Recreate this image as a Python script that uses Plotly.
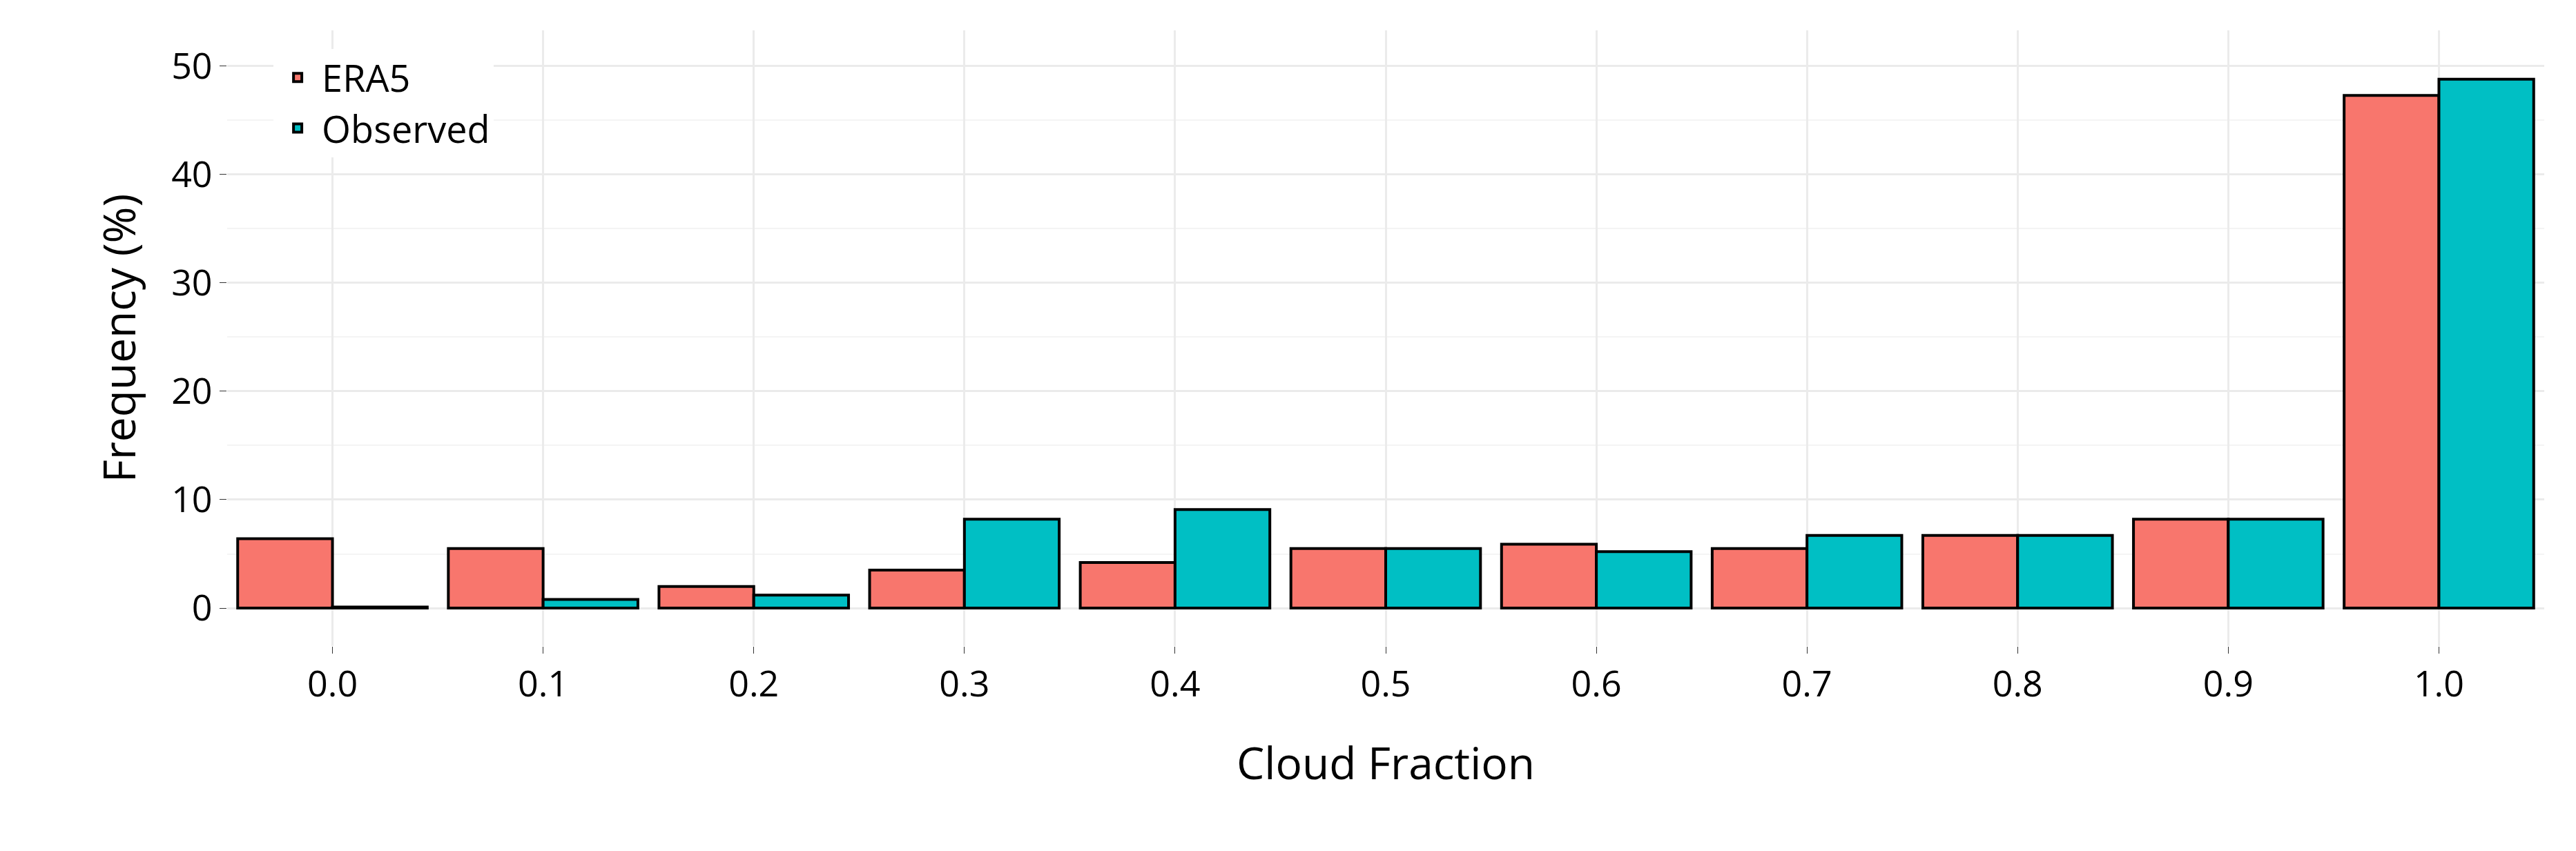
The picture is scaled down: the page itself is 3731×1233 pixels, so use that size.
import plotly.graph_objects as go

categories = ["0.0","0.1","0.2","0.3","0.4","0.5","0.6","0.7","0.8","0.9","1.0"]
era5 = [6.4, 5.5, 2.0, 3.5, 4.2, 5.5, 5.9, 5.5, 6.7, 8.2, 47.3]
observed = [0.1, 0.8, 1.2, 8.2, 9.1, 5.5, 5.2, 6.7, 6.7, 8.2, 48.8]

fig = go.Figure()
fig.add_bar(x=categories, y=era5, name="ERA5", marker=dict(color="#F8766D", line=dict(color="black", width=4)))
fig.add_bar(x=categories, y=observed, name="Observed", marker=dict(color="#00BFC4", line=dict(color="black", width=4)))
fig.update_layout(
    width=3731, height=1233, barmode="group", bargap=0.1, bargroupgap=0,
    plot_bgcolor="white", paper_bgcolor="white",
    font=dict(family="Open Sans", size=52, color="black"),
    margin=dict(l=321, r=54, t=36, b=305),
    legend=dict(x=0.02, y=0.97, xanchor="left", yanchor="top", bgcolor="white",
                font=dict(size=54), tracegroupgap=0, itemwidth=60),
    xaxis=dict(title=dict(text="Cloud Fraction", font=dict(size=64), standoff=60),
               showgrid=True, gridcolor="#EBEBEB", gridwidth=3, ticks="outside", ticklen=10, tickcolor="#333"),
    yaxis=dict(title=dict(text="Frequency (%)", font=dict(size=64), standoff=30),
               range=[-3.5, 53.3], tickvals=[0,10,20,30,40,50], showgrid=True, gridcolor="#EBEBEB", gridwidth=3,
               zeroline=False, ticks="outside", ticklen=10, tickcolor="#333",
               minor=dict(tickvals=[5,15,25,35,45], showgrid=True, gridcolor="#F4F4F4", gridwidth=2)),
)
fig.write_html("out.html")
